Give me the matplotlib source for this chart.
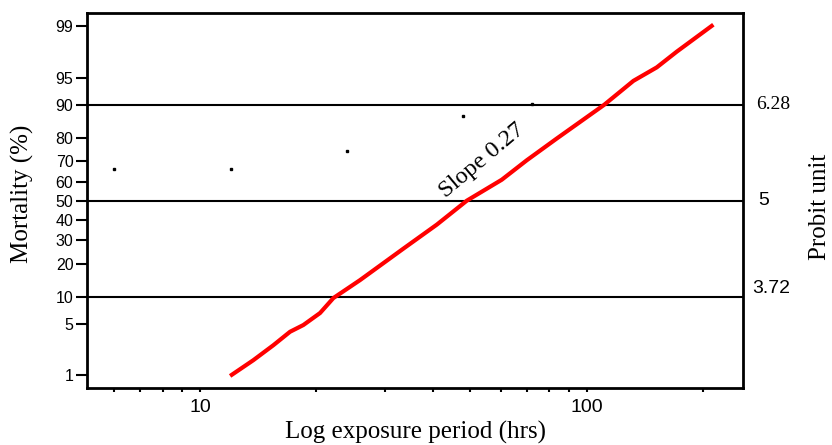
from statistics import NormalDist

import matplotlib
matplotlib.use("Agg")
import matplotlib.pyplot as plt
from matplotlib.ticker import FixedLocator, LogLocator, NullFormatter, FixedFormatter

SERIF = "Liberation Serif"
SANS = "Liberation Sans"

# Fitted probit regression line (exposure hrs vs probit unit)
fit_hours = [11.96, 13.73, 15.47, 17.09, 18.50, 20.43, 22.12, 25.93, 33.56, 40.94,
             48.95, 60.29, 69.97, 83.63, 110.9, 132.0, 151.7, 170.9, 212.5]
fit_probit = [2.66, 2.87, 3.07, 3.25, 3.34, 3.50, 3.70, 3.94, 4.36, 4.68,
              5.00, 5.28, 5.54, 5.83, 6.28, 6.60, 6.78, 6.99, 7.35]

# Observed mortality at each exposure period
obs_hours = [6, 12, 24, 48, 72]
obs_mortality = [66.4, 66.4, 74.5, 87.0, 90.2]

mortality_ticks = [1, 5, 10, 20, 30, 40, 50, 60, 70, 80, 90, 95, 99]
ref_levels = [10, 50, 90]
ref_labels = ["3.72", "5", "6.28"]


def probit(pct):
    return NormalDist().inv_cdf(pct / 100.0) + 5.0


fig = plt.figure(figsize=(8.32, 4.45), dpi=100)
ax = fig.add_axes([0.1049, 0.1274, 0.7882, 0.8427])

ax.set_xscale("log")
ax.set_xlim(5.11, 253.6)
ax.set_ylim(2.495, 7.502)

for lvl in ref_levels:
    ax.axhline(probit(lvl), color="black", lw=1.5, zorder=2)

ax.plot(fit_hours, fit_probit, color="#ff0000", lw=3.0, solid_capstyle="butt", zorder=3)
ax.plot(obs_hours, [probit(m) for m in obs_mortality], ls="none", marker="s",
        ms=1.8, color="black", zorder=4)

# y axis: mortality on a probit scale
ax.yaxis.set_major_locator(FixedLocator([probit(m) for m in mortality_ticks]))
ax.yaxis.set_major_formatter(FixedFormatter([str(m) for m in mortality_ticks]))
ax.yaxis.set_minor_locator(FixedLocator([]))
ax.tick_params(axis="y", which="major", direction="out", length=8, width=1.5,
               pad=2, labelsize=11.5)

# x axis: log exposure
ax.xaxis.set_major_locator(FixedLocator([10, 100]))
ax.xaxis.set_major_formatter(FixedFormatter(["10", "100"]))
ax.xaxis.set_minor_locator(LogLocator(base=10, subs=range(2, 10)))
ax.xaxis.set_minor_formatter(NullFormatter())
ax.tick_params(axis="x", which="both", direction="out", length=3, width=1.5,
               pad=5, labelsize=14)

for lab in ax.get_xticklabels() + ax.get_yticklabels():
    lab.set_fontfamily(SANS)

for sp in ax.spines.values():
    sp.set_linewidth(2)

ax.set_xlabel("Log exposure period (hrs)", family=SERIF, fontsize=18, va="center")
ax.xaxis.set_label_coords(0.5, -0.118)
ax.set_ylabel("Mortality (%)", family=SERIF, fontsize=18, va="center")
ax.yaxis.set_label_coords(-0.0996, 0.519)

ax.text(1.1174, 0.4835, "Probit unit", family=SERIF, fontsize=18, rotation=90,
        ha="center", va="center", transform=ax.transAxes)

# probit values of the reference levels, right of the frame
trans = ax.get_yaxis_transform()
ax.text(1.0134, probit(10), ref_labels[0], family=SANS, fontsize=14,
        ha="left", va="bottom", transform=trans, clip_on=False)
ax.text(1.023, probit(50), ref_labels[1], family=SANS, fontsize=14,
        ha="left", va="center", transform=trans, clip_on=False)
ax.text(1.0198, probit(90), ref_labels[2], family=SERIF, fontsize=14,
        ha="left", va="center", transform=trans, clip_on=False)

ax.text(53.6, 5.54, "Slope 0.27", family=SERIF, fontsize=17.5, rotation=40,
        rotation_mode="anchor", ha="center", va="center")

fig.savefig("out.png", dpi=100)
